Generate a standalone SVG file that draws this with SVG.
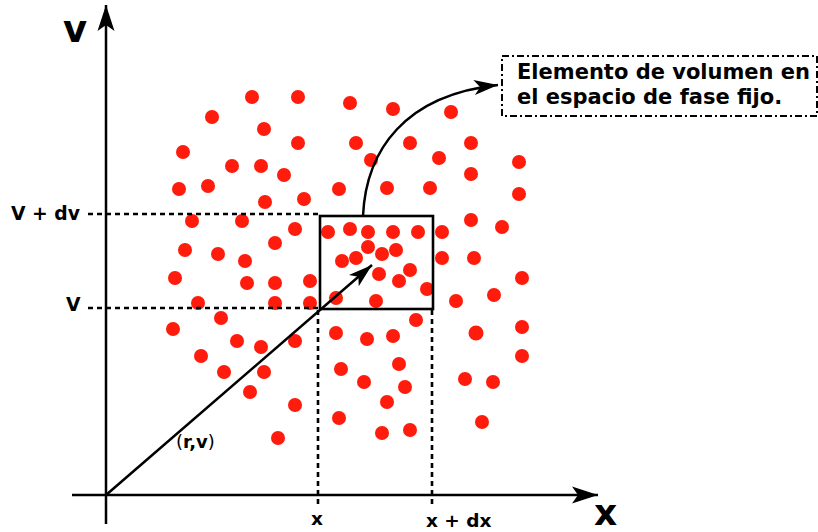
<svg xmlns="http://www.w3.org/2000/svg" width="818" height="532" viewBox="0 0 818 532">
<defs>
<style>
.t{font-family:"DejaVu Sans",Verdana,sans-serif;font-weight:bold;fill:#000}
.ax{stroke:#000;stroke-width:2.5;fill:none}
.dash{stroke:#000;stroke-width:2.6;stroke-dasharray:5,4;fill:none}
.d{fill:#ff1a08;filter:url(#soft)}
</style>
<filter id="soft" x="-50%" y="-50%" width="200%" height="200%"><feGaussianBlur stdDeviation="0.7"/></filter>
<marker id="big" markerUnits="userSpaceOnUse" viewBox="-27 -9 28 18" refX="0" refY="0" markerWidth="28" markerHeight="18" orient="auto"><path d="M0,0 L-26,-8.5 L-20,0 L-26,8.5 Z" fill="#000"/></marker>
<marker id="small" markerUnits="userSpaceOnUse" viewBox="-25 -8 26 16" refX="0" refY="0" markerWidth="26" markerHeight="16" orient="auto"><path d="M0,0 L-24,-7.5 L-18,0 L-24,7.5 Z" fill="#000"/></marker>
</defs>
<rect width="818" height="532" fill="#fff"/>
<g id="particles">
<circle class="d" cx="252" cy="97" r="7"/><circle class="d" cx="298" cy="97" r="7"/><circle class="d" cx="350" cy="103" r="7"/><circle class="d" cx="393" cy="109" r="7"/><circle class="d" cx="451" cy="112" r="7"/><circle class="d" cx="212" cy="117" r="7"/>
<circle class="d" cx="264" cy="129" r="7"/><circle class="d" cx="298" cy="143" r="7"/><circle class="d" cx="356" cy="143" r="7"/><circle class="d" cx="410" cy="143" r="7"/><circle class="d" cx="471" cy="143" r="7"/><circle class="d" cx="183" cy="152" r="7"/>
<circle class="d" cx="232" cy="166" r="7"/><circle class="d" cx="261" cy="166" r="7"/><circle class="d" cx="284" cy="175" r="7"/><circle class="d" cx="371" cy="160" r="7"/><circle class="d" cx="439" cy="158" r="7"/><circle class="d" cx="519" cy="162" r="7"/><circle class="d" cx="471" cy="174" r="7"/>
<circle class="d" cx="179" cy="189" r="7"/><circle class="d" cx="208" cy="186" r="7"/><circle class="d" cx="339" cy="189" r="7"/><circle class="d" cx="387" cy="188" r="7"/><circle class="d" cx="430" cy="188" r="7"/><circle class="d" cx="519" cy="194" r="7"/>
<circle class="d" cx="265" cy="202" r="7"/><circle class="d" cx="304" cy="199" r="7"/><circle class="d" cx="471" cy="220" r="7"/><circle class="d" cx="502" cy="227" r="7"/>
<circle class="d" cx="192" cy="221" r="7"/><circle class="d" cx="242" cy="221" r="7"/><circle class="d" cx="295" cy="229" r="7"/><circle class="d" cx="328" cy="232" r="7"/>
<circle class="d" cx="185" cy="250" r="7"/><circle class="d" cx="218" cy="254" r="7"/><circle class="d" cx="275" cy="243" r="7"/><circle class="d" cx="245" cy="261" r="7"/>
<circle class="d" cx="175" cy="278" r="7"/><circle class="d" cx="247" cy="283" r="7"/><circle class="d" cx="275" cy="283" r="7"/><circle class="d" cx="310" cy="281" r="7"/>
<circle class="d" cx="198" cy="303" r="7"/><circle class="d" cx="275" cy="303" r="7"/><circle class="d" cx="310" cy="303" r="7"/><circle class="d" cx="221" cy="318" r="7"/><circle class="d" cx="173" cy="329" r="7"/>
<circle class="d" cx="350" cy="229" r="7"/><circle class="d" cx="368" cy="232" r="7"/><circle class="d" cx="393" cy="232" r="7"/><circle class="d" cx="418" cy="232" r="7"/><circle class="d" cx="442" cy="232" r="7"/>
<circle class="d" cx="368" cy="247" r="7"/><circle class="d" cx="396" cy="250" r="7"/><circle class="d" cx="342" cy="261" r="7"/><circle class="d" cx="356" cy="258" r="7"/><circle class="d" cx="382" cy="254" r="7"/>
<circle class="d" cx="379" cy="274" r="7"/><circle class="d" cx="410" cy="270" r="7"/><circle class="d" cx="399" cy="281" r="7"/><circle class="d" cx="427" cy="289" r="7"/><circle class="d" cx="336" cy="298" r="7"/><circle class="d" cx="376" cy="301" r="7"/>
<circle class="d" cx="442" cy="258" r="7"/><circle class="d" cx="474" cy="258" r="7"/><circle class="d" cx="522" cy="278" r="7"/><circle class="d" cx="456" cy="301" r="7"/><circle class="d" cx="494" cy="295" r="7"/>
<circle class="d" cx="416" cy="320" r="7"/><circle class="d" cx="336" cy="333" r="7"/><circle class="d" cx="367" cy="339" r="7"/><circle class="d" cx="393" cy="336" r="7"/><circle class="d" cx="476" cy="333" r="7.5"/><circle class="d" cx="522" cy="327" r="7"/><circle class="d" cx="522" cy="356" r="7"/>
<circle class="d" cx="237" cy="341" r="7"/><circle class="d" cx="261" cy="347" r="7"/><circle class="d" cx="295" cy="341" r="7"/><circle class="d" cx="201" cy="356" r="7"/><circle class="d" cx="224" cy="372" r="7"/><circle class="d" cx="264" cy="372" r="7"/><circle class="d" cx="250" cy="392" r="7"/><circle class="d" cx="295" cy="405" r="7"/><circle class="d" cx="278" cy="438" r="7"/>
<circle class="d" cx="341" cy="369" r="7"/><circle class="d" cx="399" cy="364" r="7"/><circle class="d" cx="364" cy="382" r="7"/><circle class="d" cx="405" cy="387" r="7"/><circle class="d" cx="465" cy="379" r="7"/><circle class="d" cx="493" cy="382" r="7"/><circle class="d" cx="387" cy="402" r="7"/><circle class="d" cx="339" cy="418" r="7"/><circle class="d" cx="382" cy="433" r="7"/><circle class="d" cx="410" cy="430" r="7"/><circle class="d" cx="482" cy="422" r="7"/>
</g>
<g id="connectors">
<line class="ax" x1="106" y1="524" x2="106" y2="5" marker-end="url(#big)"/>
<line class="ax" x1="72" y1="495" x2="598" y2="495" marker-end="url(#big)"/>
<line class="ax" x1="106" y1="495" x2="372" y2="265" stroke-width="2" marker-end="url(#small)"/>
<path class="ax" d="M363,216 C366,150 405,95 498,85" stroke-width="2" marker-end="url(#small)"/>
<line class="dash" x1="88" y1="214" x2="320" y2="214"/>
<line class="dash" x1="88" y1="308" x2="320" y2="308"/>
<line class="dash" x1="318" y1="310" x2="318" y2="506"/>
<line class="dash" x1="432" y1="310" x2="432" y2="506"/>
</g>
<g id="volume-element">
<rect x="320" y="216" width="113" height="93" fill="none" stroke="#000" stroke-width="2.6"/>
</g>
<g id="label-box">
<rect x="502" y="56" width="315" height="60" fill="#fff" stroke="#000" stroke-width="2" stroke-dasharray="7,3,2,3"/>
<text class="t" x="517" y="79" font-size="21">Elemento de volumen en</text>
<text class="t" x="517" y="104" font-size="21">el espacio de fase fijo.</text>
</g>
<g id="labels">
<text class="t" x="63" y="42" font-size="37">v</text>
<text class="t" x="594" y="525" font-size="36">x</text>
<text class="t" x="11" y="220" font-size="18.8">V + dv</text>
<text class="t" x="66" y="311" font-size="18.8">V</text>
<text class="t" x="311" y="525" font-size="18.5">x</text>
<text class="t" x="426" y="527" font-size="18.5">x + dx</text>
<text class="t" x="176" y="448" font-size="18"><tspan font-weight="normal">(</tspan>r,v<tspan font-weight="normal">)</tspan></text>
</g>
</svg>
